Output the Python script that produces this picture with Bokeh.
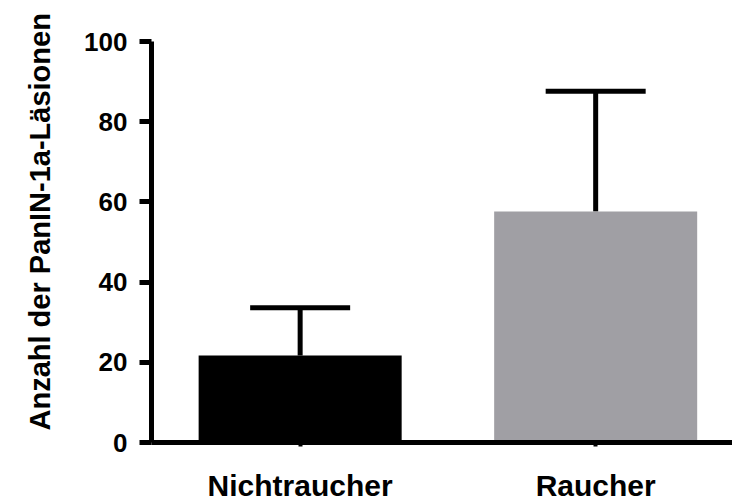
from bokeh.plotting import figure
from bokeh.models import Range1d, FixedTicker, ColumnDataSource, Whisker, TeeHead, Title
from bokeh.embed import file_html
from bokeh.resources import INLINE

categories = ["Nichtraucher", "Raucher"]
means = [21.7, 57.6]
upper_err = [33.6, 87.6]
bar_colors = ["#000000", "#a09fa4"]
y_ticks = [0, 20, 40, 60, 80, 100]
y_label = "Anzahl der PanIN-1a-Läsionen"

xpos = list(range(1, len(categories) + 1))
src = ColumnDataSource(dict(x=xpos, top=means, upper=upper_err, color=bar_colors))

p = figure(width=732, height=504, output_backend="svg", toolbar_location=None,
           x_range=Range1d(0.497, 2.463), y_range=Range1d(0, 100),
           min_border_left=149, min_border_top=41, min_border_bottom=61, min_border_right=0)
p.outline_line_color = None
p.grid.visible = False
p.background_fill_color = "white"
p.border_fill_color = "white"

p.vbar(x="x", top="top", bottom=0, width=0.687, fill_color="color", line_color=None, source=src)

w = Whisker(source=src, base="x", lower="top", upper="upper", dimension="height",
            line_color="black", line_width=5,
            upper_head=TeeHead(size=100, line_color="black", line_width=5),
            lower_head=None)
p.add_layout(w)

font = "Liberation Sans"
# y axis
ya = p.yaxis[0]
ya.ticker = FixedTicker(ticks=y_ticks)
ya.axis_line_width = 5
ya.axis_line_color = "black"
ya.major_tick_line_width = 5
ya.major_tick_out = 12
ya.major_tick_in = 0
ya.minor_tick_line_color = None
ya.major_label_text_font = font
ya.major_label_text_font_style = "bold"
ya.major_label_text_font_size = "26px"
ya.major_label_text_color = "black"
ya.major_label_standoff = 12

ytitle = Title(text=y_label, align="left", vertical_align="top", offset=12, standoff=47,
               text_font=font, text_font_style="bold", text_font_size="29px",
               text_color="black")
p.add_layout(ytitle, "left")

# x axis
xa = p.xaxis[0]
xa.ticker = FixedTicker(ticks=xpos)
xa.major_label_overrides = {x: c for x, c in zip(xpos, categories)}
xa.axis_line_width = 5
xa.axis_line_color = "black"
xa.major_tick_line_width = 4
xa.major_tick_out = 4
xa.major_tick_in = 0
xa.minor_tick_line_color = None
xa.major_label_text_font = font
xa.major_label_text_font_style = "bold"
xa.major_label_text_font_size = "30px"
xa.major_label_text_color = "black"
xa.major_label_standoff = 22

open("out.html", "w").write(file_html(p, INLINE))
